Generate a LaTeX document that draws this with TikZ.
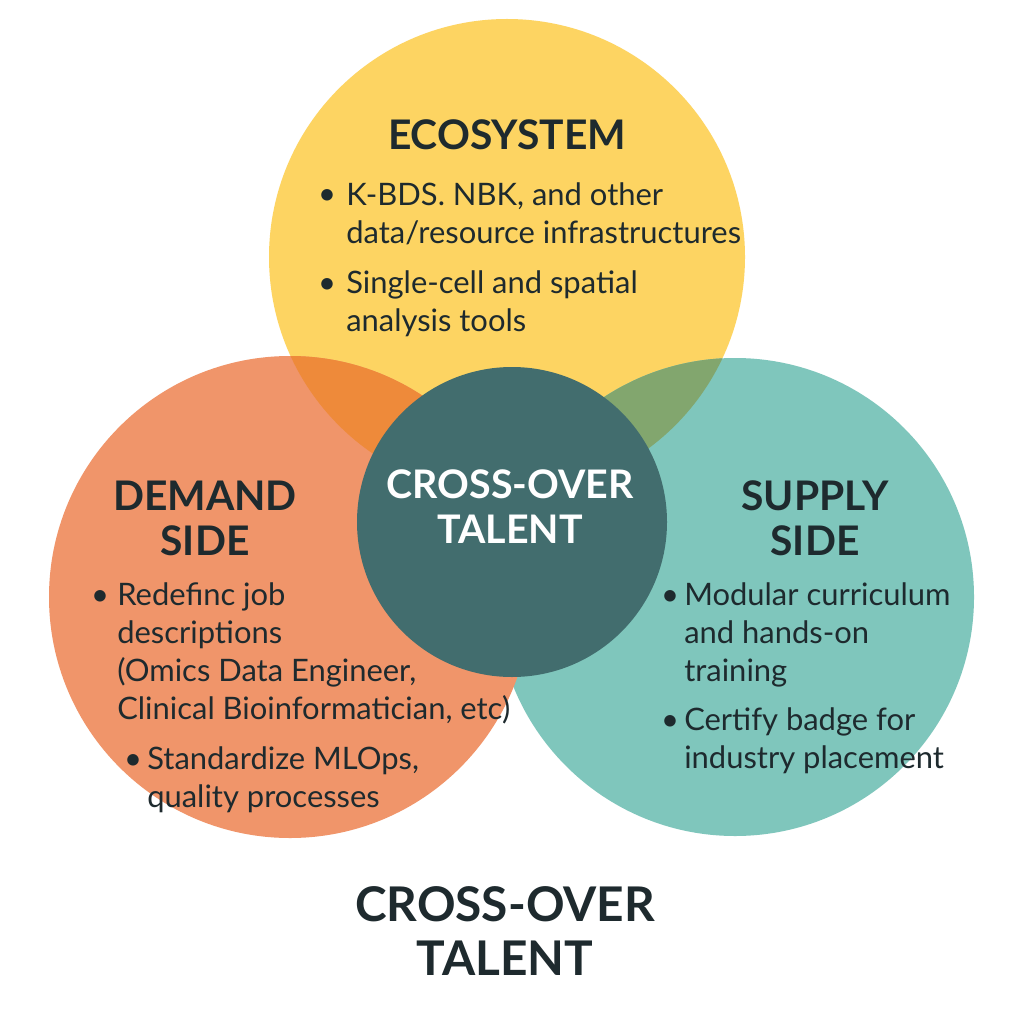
\documentclass[tikz,border=0pt]{standalone}
\usepackage{fontspec}
\setmainfont{Lato}
\usetikzlibrary{positioning}
\definecolor{ecoyellow}{HTML}{FDD462}
\definecolor{demorange}{HTML}{F0956A}
\definecolor{supteal}{HTML}{7FC6BC}
\definecolor{coredark}{HTML}{426D6E}
\definecolor{mixorange}{HTML}{EE8A3A}
\definecolor{mixgreen}{HTML}{82A66E}
\definecolor{inkdark}{HTML}{1E2A2E}
\begin{document}
\begin{tikzpicture}[x=0.025cm,y=-0.025cm]

	\tikzstyle heading=[font=\fontsize{29}{32}\selectfont\bfseries, text=inkdark, align=center, inner sep=0pt];
	\tikzstyle bullet=[font=\fontsize{22}{27}\selectfont, text=inkdark, inner sep=0pt, anchor=base];
	\tikzstyle bullet text=[font=\fontsize{22}{27}\selectfont, text=inkdark, inner sep=0pt, anchor=base west, align=left];

	\useasboundingbox[fill=white] (0,0) rectangle (1024,1024);

	% circles
	\fill[ecoyellow] (507,257) circle (238);
	\fill[supteal] (735,597) circle (239);
	\fill[demorange] (290,597) circle (241);
	\begin{scope}
		\clip (507,257) circle (238);
		\fill[mixgreen] (735,597) circle (239);
		\fill[mixorange] (290,597) circle (241);
	\end{scope}
	\node[circle, fill=coredark, minimum size=310*0.025cm, inner sep=0pt] (core) at (512,522) {};

	% headings
	\node[heading] (eco) at (507,135) {ECOSYSTEM};
	\node[heading] (demand) at (205,518) {DEMAND\\SIDE};
	\node[heading] (supply) at (815,518) {SUPPLY\\SIDE};
	\node[heading, font=\fontsize{28}{32}\selectfont\bfseries, text=white] (coretext) at (510,507) {CROSS-OVER\\TALENT};
	\node[heading, font=\fontsize{34}{38}\selectfont\bfseries] (title) at (505,931) {CROSS-OVER\\TALENT};

	% ecosystem
	\node[bullet] (eb1) at (327,205) {\textbullet};
	\node[bullet text] (et1) at (346,243) {K-BDS. NBK, and other\\data/resource infrastructures};
	\node[bullet] (eb2) at (327,293) {\textbullet};
	\node[bullet text] (et2) at (346,331) {Single-cell and spatial\\analysis tools};

	% demand side
	\node[bullet] (db1) at (100,605) {\textbullet};
	\node[bullet text] (dt1) at (117,719) {Redefinc job\\descriptions\\(Omics Data Engineer,\\Clinical Bioinformatician, etc)};
	\node[bullet] (db2) at (133,769) {\textbullet};
	\node[bullet text] (dt2) at (147,807) {Standardize MLOps,\\quality processes};

	% supply side
	\node[bullet] (sb1) at (670,605) {\textbullet};
	\node[bullet text] (st1) at (684,681) {Modular curriculum\\and hands-on\\training};
	\node[bullet] (sb2) at (670,730) {\textbullet};
	\node[bullet text] (st2) at (684,768) {Certify badge for\\industry placement};

\end{tikzpicture}
\end{document}
